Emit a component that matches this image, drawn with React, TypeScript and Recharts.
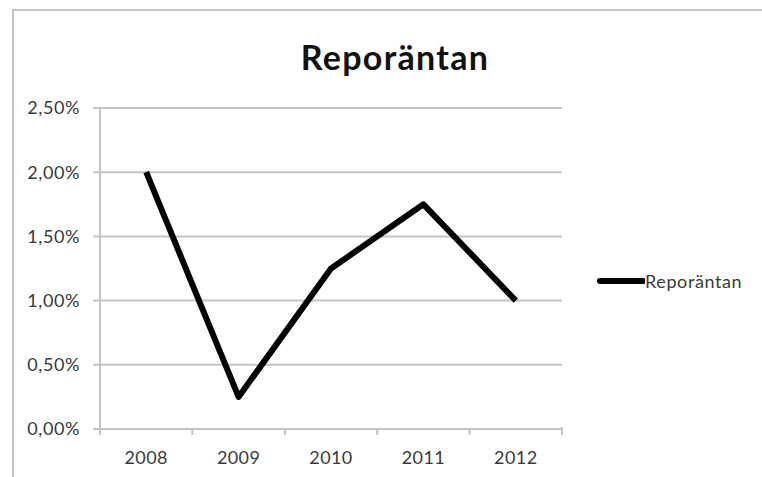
import { LineChart, Line, XAxis, YAxis, CartesianGrid } from "recharts";

const years = ["2008", "2009", "2010", "2011", "2012"];
const repoRate = [2.0, 0.25, 1.25, 1.75, 1.0];
const yTicks = [0, 0.5, 1, 1.5, 2, 2.5];

const data = years.map((year, i) => ({ year, rate: repoRate[i] }));

const W = 762;
const H = 477;
const M = { top: 108, right: 200, bottom: 18, left: 0 };
const Y_AXIS_W = 100;
const PLOT_W = W - M.left - Y_AXIS_W - M.right;
const HALF_BAND = PLOT_W / years.length / 2;
const GRID = "#c4c4c4";
const FONT = "Lato, 'Open Sans', sans-serif";
const TICK_MARGIN = 22;
const LABEL = "#3a3a3a";

const fmtPct = (v: number) => `${v.toFixed(2).replace(".", ",")}%`;

// category labels + Excel-style tick marks sitting between categories
function YearTick(props: any) {
  const { x, y, payload, index } = props;
  const axisY = y - TICK_MARGIN;
  const last = index === years.length - 1;
  return (
    <g>
      <line x1={x - HALF_BAND} x2={x - HALF_BAND} y1={axisY} y2={axisY + 6} stroke={GRID} strokeWidth={2} />
      {last && (
        <line x1={x + HALF_BAND} x2={x + HALF_BAND} y1={axisY - 2} y2={axisY + 6} stroke={GRID} strokeWidth={2} />
      )}
      <text
        x={x}
        y={y}
        dy="0.71em"
        textAnchor="middle"
        fill={LABEL}
        fontSize={18}
        letterSpacing={0.4}
        fontFamily={FONT}
      >
        {payload.value}
      </text>
    </g>
  );
}

export default function App() {
  return (
    <div style={{ position: "absolute", left: 0, top: 0, width: W, height: H, background: "#fff", overflow: "hidden" }}>
      <div
        style={{
          position: "absolute",
          left: 12,
          top: 9,
          width: W,
          height: H,
          border: `2px solid ${GRID}`,
          boxSizing: "border-box",
        }}
      />
      <div
        style={{
          position: "absolute",
          left: 0,
          width: 790,
          top: 36,
          textAlign: "center",
          fontFamily: FONT,
          fontWeight: 700,
          fontSize: 34,
          letterSpacing: 1.3,
          color: "#111",
        }}
      >
        Reporäntan
      </div>
      <div style={{ position: "absolute", left: 0, top: 0 }}>
        <LineChart width={W} height={H} data={data} margin={M}>
          <CartesianGrid vertical={false} stroke={GRID} strokeWidth={2} />
          <XAxis
            dataKey="year"
            padding={{ left: HALF_BAND, right: HALF_BAND }}
            axisLine={{ stroke: GRID, strokeWidth: 2 }}
            tickLine={false}
            tickSize={0}
            tickMargin={TICK_MARGIN}
            tick={<YearTick />}
            height={30}
          />
          <YAxis
            width={Y_AXIS_W}
            domain={[0, 2.5]}
            ticks={yTicks}
            tickFormatter={fmtPct}
            axisLine={{ stroke: GRID, strokeWidth: 2 }}
            tickLine={{ stroke: GRID, strokeWidth: 2 }}
            tickSize={7}
            tickMargin={13}
            tick={{ fill: LABEL, fontSize: 18, fontFamily: FONT, letterSpacing: 0.6 }}
          />
          <Line
            type="linear"
            dataKey="rate"
            stroke="#000"
            strokeWidth={6}
            strokeLinejoin="round"
            dot={false}
            isAnimationActive={false}
          />
        </LineChart>
      </div>
      <div
        style={{
          position: "absolute",
          left: 597,
          top: 270,
          display: "flex",
          alignItems: "center",
          fontFamily: FONT,
          fontSize: 18,
          letterSpacing: 0.6,
          color: LABEL,
        }}
      >
        <svg width={48} height={10}>
          <line x1={3} x2={46} y1={5} y2={5} stroke="#000" strokeWidth={6} strokeLinecap="round" />
        </svg>
        <span>Reporäntan</span>
      </div>
    </div>
  );
}
